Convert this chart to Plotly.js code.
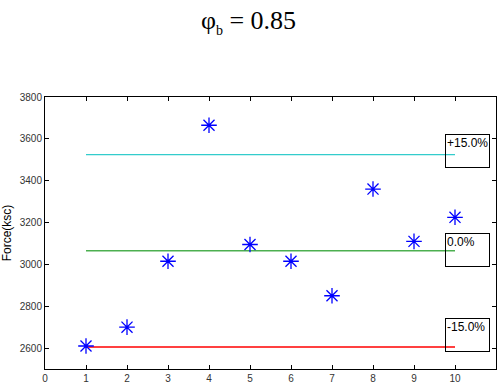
<!DOCTYPE html>
<html><head><meta charset="utf-8">
<script src="https://cdn.plot.ly/plotly-3.0.1.min.js"></script>
<style>body{margin:0;padding:0;background:#fff}</style>
</head><body>
<div id="chart" style="width:497px;height:385px"></div>
<script>
const sampleX = [1,2,3,4,5,6,7,8,9,10];
const force = [2610,2700,3015,3665,3095,3015,2850,3360,3110,3225];
const lineX = [1,10];
const meanVal = 3065;
const plus15 = 3525;
const minus15 = 2605;
const boxLabels = ['+15.0%','0.0%','-15.0%'];
const boxTops = [3625,3148,2743];

const traces = [
  {x: lineX, y: [plus15,plus15], mode:'lines', line:{color:'#33cccc', width:1.2}, hoverinfo:'skip'},
  {x: lineX, y: [meanVal,meanVal], mode:'lines', line:{color:'#4caf50', width:1.5}, hoverinfo:'skip'},
  {x: lineX, y: [minus15,minus15], mode:'lines', line:{color:'#ff0000', width:1.5}, hoverinfo:'skip'},
  {x: sampleX, y: force, mode:'markers', marker:{symbol:'asterisk-open', size:13, color:'#0000ff', line:{color:'#0000ff', width:1.3}}}
];

const annotations = boxLabels.map((t,i)=>({
  x: 9.76, y: boxTops[i], xref:'x', yref:'y', xanchor:'left', yanchor:'top',
  text: t, showarrow:false, align:'left', valign:'top',
  width: 41, height: 30, bordercolor:'#000', borderwidth:1, borderpad:1,
  font:{family:'Arial, Liberation Sans, sans-serif', size:12, color:'#000'}
}));

const tickFont = {family:'Liberation Sans Narrow, Arial Narrow, Arial, sans-serif', size:10, color:'#333'};
const layout = {
  width:497, height:385,
  margin:{l:45, r:1, t:97, b:16},
  paper_bgcolor:'#fff', plot_bgcolor:'#fff',
  showlegend:false,
  title:{text:'φ<sub><span style="font-size:14px">b</span></sub> = 0.85', x:0.5, xref:'container', y:0.948, yref:'container', yanchor:'middle',
         font:{family:'Liberation Serif, Times New Roman, serif', size:26, color:'#000'}},
  xaxis:{range:[0,11], dtick:1, tick0:0, showgrid:false, zeroline:false,
         showline:true, linecolor:'#000', linewidth:1, mirror:'ticks',
         ticks:'inside', ticklen:4, tickcolor:'#000', tickfont:tickFont},
  yaxis:{range:[2500,3800], dtick:200, tick0:2600, showgrid:false, zeroline:false,
         showline:true, linecolor:'#000', linewidth:1, mirror:'ticks',
         ticks:'inside', ticklen:4, tickcolor:'#000', tickfont:tickFont,
         title:{text:'Force(ksc)', standoff:5, font:{family:'Arial, Liberation Sans, sans-serif', size:12, color:'#000'}}},
  annotations: annotations
};
Plotly.newPlot('chart', traces, layout, {displayModeBar:false, staticPlot:true});
</script>
</body></html>
